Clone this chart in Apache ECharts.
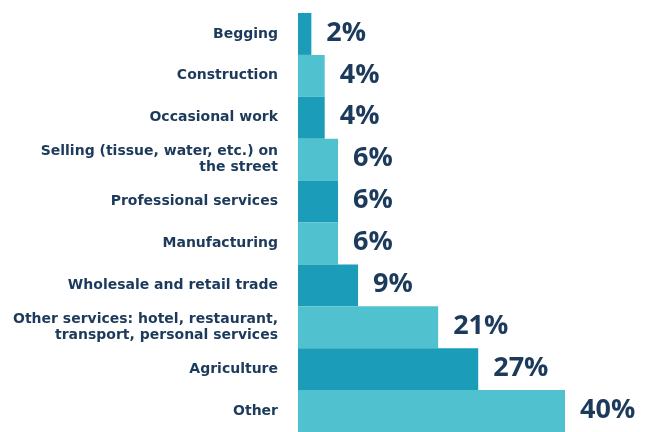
<!DOCTYPE html>
<html>
<head>
<meta charset="utf-8">
<script src="https://cdn.jsdelivr.net/npm/echarts@6/dist/echarts.min.js"></script>
<style>
html,body{margin:0;padding:0;background:#fff;}
#chart{width:653px;height:432px;}
</style>
</head>
<body>
<div id="chart"></div>
<script>
const categories = [
  "Begging",
  "Construction",
  "Occasional work",
  "Selling (tissue, water, etc.) on\nthe street",
  "Professional services",
  "Manufacturing",
  "Wholesale and retail trade",
  "Other services: hotel, restaurant,\ntransport, personal services",
  "Agriculture",
  "Other"
];
const values = [2, 4, 4, 6, 6, 6, 9, 21, 27, 40];

const darkTeal = "#1b9cb8";
const lightTeal = "#50c2cf";
const navy = "#1c3a5b";

const chart = echarts.init(document.getElementById("chart"), null, {renderer: "canvas"});
chart.setOption({
  animation: false,
  grid: {left: 298, top: 13, width: 333.75, height: 423, containLabel: false},
  xAxis: {
    type: "value", min: 0, max: 50, show: false
  },
  yAxis: {
    type: "category",
    data: categories,
    inverse: true,
    axisLine: {show: false},
    axisTick: {show: false},
    axisLabel: {
      margin: 20,
      color: navy,
      fontFamily: "DejaVu Sans",
      fontWeight: "bold",
      fontSize: 14,
      lineHeight: 16,
      align: "right"
    }
  },
  series: [{
    type: "bar",
    data: values,
    barCategoryGap: "0%",
    itemStyle: {
      color: function (p) { return p.dataIndex % 2 === 0 ? darkTeal : lightTeal; }
    },
    label: {
      show: true,
      position: "right",
      distance: 15,
      offset: [0, -1],
      formatter: "{c}%",
      color: navy,
      fontFamily: "Open Sans",
      fontWeight: "bold",
      fontSize: 27
    }
  }]
});
</script>
</body>
</html>
